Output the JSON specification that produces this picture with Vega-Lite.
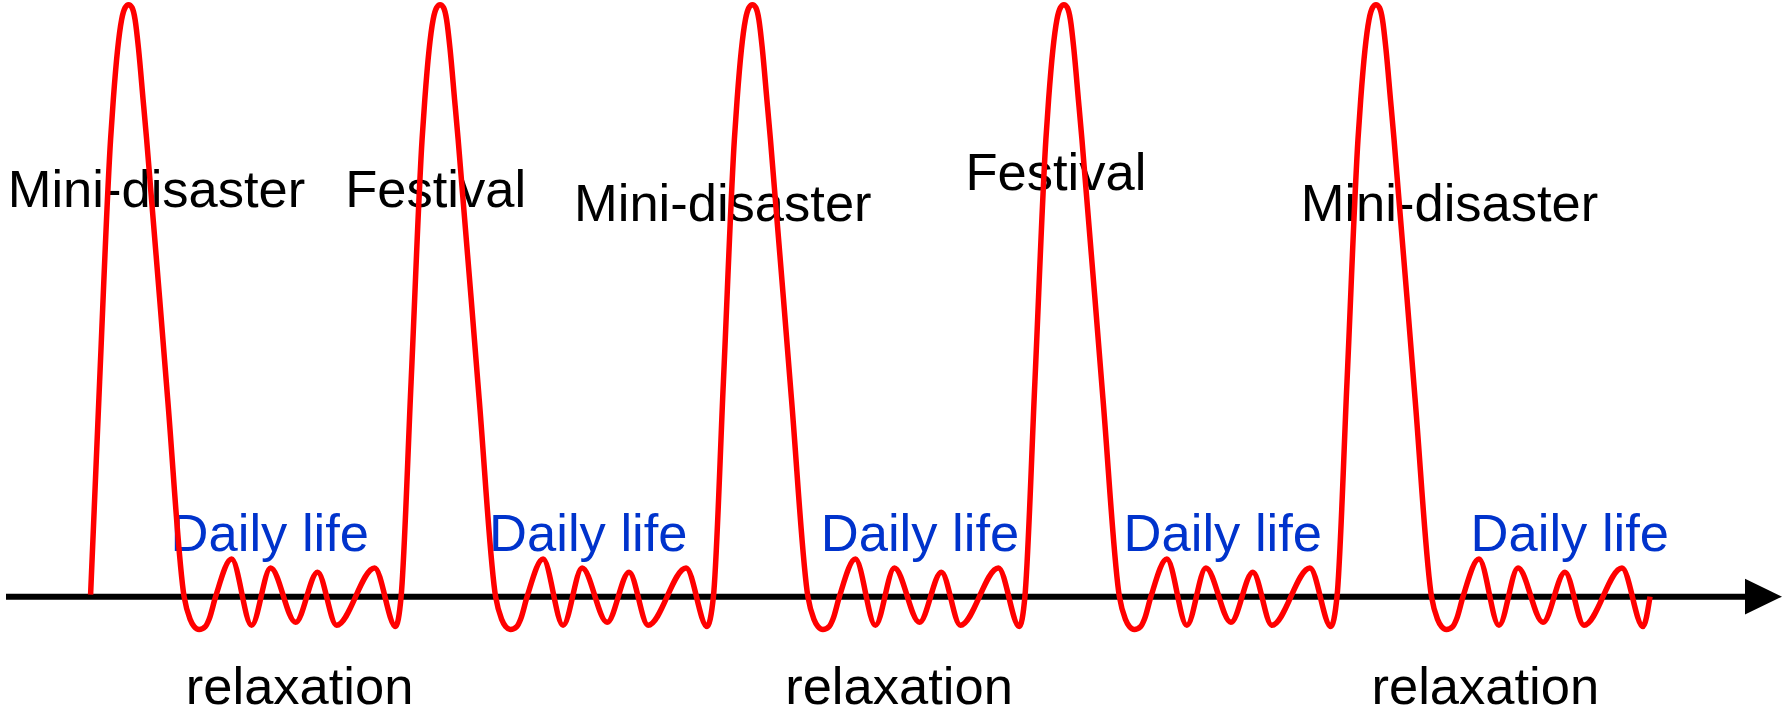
{
  "$schema": "https://vega.github.io/schema/vega-lite/v6.json",
  "width": 1785,
  "height": 715,
  "padding": 0,
  "autosize": {"type": "fit", "contains": "padding"},
  "background": "#ffffff",
  "config": {"view": {"stroke": null}},
  "datasets": {
    "curve": [
      {"t": 90.6, "v": 0.33}, {"t": 99.6, "v": 36}, {"t": 110.6, "v": 76.7}, {"t": 113.3, "v": 83.3}, {"t": 117.6, "v": 91.7}, {"t": 121.6, "v": 96.7}, {"t": 125.1, "v": 98.7}, {"t": 128.6, "v": 99.2}, {"t": 132.1, "v": 98.7}, {"t": 135.1, "v": 96.7}, {"t": 138.6, "v": 91.7}, {"t": 143.1, "v": 83.3}, {"t": 146.6, "v": 76.7}, {"t": 167.6, "v": 33.3}, {"t": 184.1, "v": 0}, {"t": 190.1, "v": -3.8}, {"t": 194.1, "v": -5}, {"t": 199.1, "v": -5.5}, {"t": 205.4, "v": -5}, {"t": 209.1, "v": -3.8}, {"t": 215.6, "v": 0}, {"t": 231.6, "v": 6.3}, {"t": 251.6, "v": -4.8}, {"t": 270.6, "v": 4.8}, {"t": 295.6, "v": -4.3}, {"t": 317.6, "v": 4.1}, {"t": 336.6, "v": -4.8}, {"t": 374.6, "v": 4.8}, {"t": 395.6, "v": -5},
      {"t": 401.1, "v": 0}, {"t": 411.1, "v": 36}, {"t": 422.1, "v": 76.7}, {"t": 424.8, "v": 83.3}, {"t": 429.1, "v": 91.7}, {"t": 433.1, "v": 96.7}, {"t": 436.6, "v": 98.7}, {"t": 440.1, "v": 99.2}, {"t": 443.6, "v": 98.7}, {"t": 446.6, "v": 96.7}, {"t": 450.1, "v": 91.7}, {"t": 454.6, "v": 83.3}, {"t": 458.1, "v": 76.7}, {"t": 479.1, "v": 33.3}, {"t": 495.6, "v": 0}, {"t": 501.6, "v": -3.8}, {"t": 505.6, "v": -5}, {"t": 510.6, "v": -5.5}, {"t": 516.9, "v": -5}, {"t": 520.6, "v": -3.8}, {"t": 527.1, "v": 0}, {"t": 543.1, "v": 6.3}, {"t": 563.1, "v": -4.8}, {"t": 582.1, "v": 4.8}, {"t": 607.1, "v": -4.3}, {"t": 629.1, "v": 4.1}, {"t": 648.1, "v": -4.8}, {"t": 686.1, "v": 4.8}, {"t": 707.1, "v": -5},
      {"t": 713.4, "v": 0}, {"t": 723.4, "v": 36}, {"t": 734.4, "v": 76.7}, {"t": 737.1, "v": 83.3}, {"t": 741.4, "v": 91.7}, {"t": 745.4, "v": 96.7}, {"t": 748.9, "v": 98.7}, {"t": 752.4, "v": 99.2}, {"t": 755.9, "v": 98.7}, {"t": 758.9, "v": 96.7}, {"t": 762.4, "v": 91.7}, {"t": 766.9, "v": 83.3}, {"t": 770.4, "v": 76.7}, {"t": 791.4, "v": 33.3}, {"t": 807.9, "v": 0}, {"t": 813.9, "v": -3.8}, {"t": 817.9, "v": -5}, {"t": 822.9, "v": -5.5}, {"t": 829.2, "v": -5}, {"t": 832.9, "v": -3.8}, {"t": 839.4, "v": 0}, {"t": 855.4, "v": 6.3}, {"t": 875.4, "v": -4.8}, {"t": 894.4, "v": 4.8}, {"t": 919.4, "v": -4.3}, {"t": 941.4, "v": 4.1}, {"t": 960.4, "v": -4.8}, {"t": 998.4, "v": 4.8}, {"t": 1019.4, "v": -5},
      {"t": 1024.9, "v": 0}, {"t": 1034.9, "v": 36}, {"t": 1045.9, "v": 76.7}, {"t": 1048.6, "v": 83.3}, {"t": 1052.9, "v": 91.7}, {"t": 1056.9, "v": 96.7}, {"t": 1060.4, "v": 98.7}, {"t": 1063.9, "v": 99.2}, {"t": 1067.4, "v": 98.7}, {"t": 1070.4, "v": 96.7}, {"t": 1073.9, "v": 91.7}, {"t": 1078.4, "v": 83.3}, {"t": 1081.9, "v": 76.7}, {"t": 1102.9, "v": 33.3}, {"t": 1119.4, "v": 0}, {"t": 1125.4, "v": -3.8}, {"t": 1129.4, "v": -5}, {"t": 1134.4, "v": -5.5}, {"t": 1140.7, "v": -5}, {"t": 1144.4, "v": -3.8}, {"t": 1150.9, "v": 0}, {"t": 1166.9, "v": 6.3}, {"t": 1186.9, "v": -4.8}, {"t": 1205.9, "v": 4.8}, {"t": 1230.9, "v": -4.3}, {"t": 1252.9, "v": 4.1}, {"t": 1271.9, "v": -4.8}, {"t": 1309.9, "v": 4.8}, {"t": 1330.9, "v": -5},
      {"t": 1337, "v": 0}, {"t": 1347, "v": 36}, {"t": 1358, "v": 76.7}, {"t": 1360.7, "v": 83.3}, {"t": 1365, "v": 91.7}, {"t": 1369, "v": 96.7}, {"t": 1372.5, "v": 98.7}, {"t": 1376, "v": 99.2}, {"t": 1379.5, "v": 98.7}, {"t": 1382.5, "v": 96.7}, {"t": 1386, "v": 91.7}, {"t": 1390.5, "v": 83.3}, {"t": 1394, "v": 76.7}, {"t": 1415, "v": 33.3}, {"t": 1431.5, "v": 0}, {"t": 1437.5, "v": -3.8}, {"t": 1441.5, "v": -5}, {"t": 1446.5, "v": -5.5}, {"t": 1452.8, "v": -5}, {"t": 1456.5, "v": -3.8}, {"t": 1463, "v": 0}, {"t": 1479, "v": 6.3}, {"t": 1499, "v": -4.8}, {"t": 1518, "v": 4.8}, {"t": 1543, "v": -4.3}, {"t": 1565, "v": 4.1}, {"t": 1584, "v": -4.8}, {"t": 1622, "v": 4.8}, {"t": 1643, "v": -5}, {"t": 1650, "v": 0}
    ],
    "labels": [
      {"t": 156.5, "v": 65.25, "label": "Mini-disaster", "kind": "event"},
      {"t": 435.6, "v": 65.25, "label": "Festival", "kind": "event"},
      {"t": 722.8, "v": 62.92, "label": "Mini-disaster", "kind": "event"},
      {"t": 1055.9, "v": 68.08, "label": "Festival", "kind": "event"},
      {"t": 1449.5, "v": 63.0, "label": "Mini-disaster", "kind": "event"},
      {"t": 269.8, "v": 7.62, "label": "Daily life", "kind": "daily"},
      {"t": 588.3, "v": 7.62, "label": "Daily life", "kind": "daily"},
      {"t": 920.0, "v": 7.62, "label": "Daily life", "kind": "daily"},
      {"t": 1222.8, "v": 7.62, "label": "Daily life", "kind": "daily"},
      {"t": 1569.8, "v": 7.62, "label": "Daily life", "kind": "daily"},
      {"t": 299.6, "v": -18.0, "label": "relaxation", "kind": "relax"},
      {"t": 899.0, "v": -18.0, "label": "relaxation", "kind": "relax"},
      {"t": 1485.3, "v": -18.0, "label": "relaxation", "kind": "relax"}
    ],
    "axisline": [{"t": 6, "t2": 1748, "v": 0}],
    "arrowhead": [{"t": 1763.5, "v": 0}]
  },
  "layer": [
    {
      "data": {"name": "labels"},
      "mark": {"type": "text", "font": "Liberation Sans", "fontSize": 52.5, "align": "center", "baseline": "alphabetic"},
      "encoding": {
        "x": {"field": "t", "type": "quantitative", "scale": {"domain": [0, 1785], "nice": false, "zero": false}, "axis": null},
        "y": {"field": "v", "type": "quantitative", "scale": {"domain": [-19.1667, 100], "nice": false, "zero": false}, "axis": null},
        "text": {"field": "label", "type": "nominal"},
        "color": {"field": "kind", "type": "nominal", "scale": {"domain": ["event", "daily", "relax"], "range": ["#000000", "#0033cc", "#000000"]}, "legend": null}
      }
    },
    {
      "data": {"name": "axisline"},
      "mark": {"type": "rule", "color": "#000000", "strokeWidth": 6},
      "encoding": {
        "x": {"field": "t", "type": "quantitative", "scale": {"domain": [0, 1785], "nice": false, "zero": false}, "axis": null},
        "x2": {"field": "t2"},
        "y": {"field": "v", "type": "quantitative", "scale": {"domain": [-19.1667, 100], "nice": false, "zero": false}, "axis": null}
      }
    },
    {
      "data": {"name": "arrowhead"},
      "mark": {"type": "point", "shape": "M1,0L-1,-0.97L-1,0.97Z", "filled": true, "color": "#000000", "size": 1369, "opacity": 1, "strokeWidth": 0},
      "encoding": {
        "x": {"field": "t", "type": "quantitative", "scale": {"domain": [0, 1785], "nice": false, "zero": false}, "axis": null},
        "y": {"field": "v", "type": "quantitative", "scale": {"domain": [-19.1667, 100], "nice": false, "zero": false}, "axis": null}
      }
    },
    {
      "data": {"name": "curve"},
      "mark": {"type": "line", "color": "#ff0000", "strokeWidth": 5.5, "interpolate": "monotone", "strokeCap": "butt", "strokeJoin": "round"},
      "encoding": {
        "x": {"field": "t", "type": "quantitative", "scale": {"domain": [0, 1785], "nice": false, "zero": false}, "axis": null},
        "y": {"field": "v", "type": "quantitative", "scale": {"domain": [-19.1667, 100], "nice": false, "zero": false}, "axis": null}
      }
    }
  ]
}
